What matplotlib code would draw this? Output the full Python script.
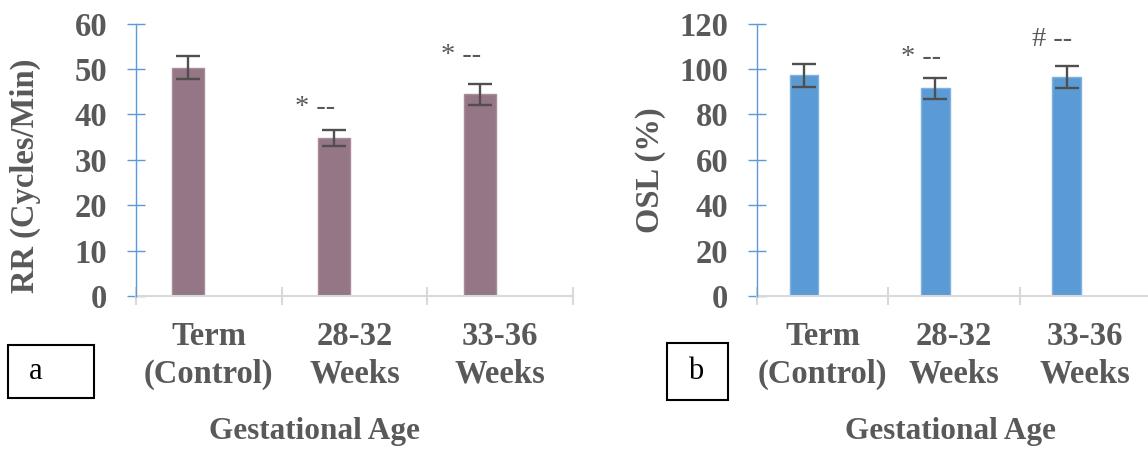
import matplotlib
matplotlib.use("Agg")
import matplotlib.pyplot as plt
from matplotlib.patches import Rectangle
import numpy as np

# ---- data ----
categories = ["Term\n(Control)", "28-32\nWeeks", "33-36\nWeeks"]
rr_values = [50.3, 34.7, 44.4]
rr_errors = [2.5, 1.75, 2.3]
osl_values = [97.2, 91.5, 96.3]
osl_errors = [5.0, 4.7, 4.85]
rr_marks = ["", "* --", "* --"]
osl_marks = ["", "* --", "# --"]
rr_mark_y = [None, 40.1, 51.5]
osl_mark_y = [None, 102.2, 110.1]

W, H = 1148, 449
fig = plt.figure(figsize=(W / 100, H / 100), dpi=100)

GRAY = "#595959"
SERIF = "Liberation Serif"


def make_panel(rect, values, errors, color, edge, ymax, ystep, marks, mark_y, ylabel, ylabel_xy, panel_letter, box):
    ax = fig.add_axes(rect)
    n = len(values)
    x = np.arange(n)
    xb = x - 0.14
    ax.bar(xb, values, width=0.22, color=color, edgecolor=edge, linewidth=1.0, zorder=2)
    ax.errorbar(xb, values, yerr=errors, fmt="none", ecolor="#4F4F4F", elinewidth=1.7,
                capsize=8.4, capthick=1.7, zorder=3)
    ax.set_xlim(-0.5, n - 0.5)
    ax.set_ylim(0, ymax)
    ax.set_yticks(np.arange(0, ymax + 1, ystep))
    for s in ("top", "right"):
        ax.spines[s].set_visible(False)
    ax.spines["left"].set_color("#5B9BD5")
    ax.spines["left"].set_linewidth(1.0)
    ax.spines["bottom"].set_color("#D9D9D9")
    ax.spines["bottom"].set_linewidth(1.5)
    ax.spines["left"].set_zorder(4)
    ax.tick_params(axis="y", direction="inout", length=13, width=1.0, color="#5B9BD5",
                   labelsize=23.5, labelcolor=GRAY, pad=14)
    for lab in ax.get_yticklabels():
        lab.set_fontfamily(SERIF)
        lab.set_fontweight("bold")
    # x: major at boundaries (no labels), minor at centers with labels
    ax.set_xticks(np.arange(-0.5, n, 1.0))
    ax.set_xticklabels([])
    ax.tick_params(axis="x", which="major", direction="inout", length=13, width=1.5, color="#D9D9D9")
    ax.set_xticks(x, minor=True)
    ax.set_xticklabels(categories, minor=True, fontsize=23.5, color=GRAY,
                       fontfamily=SERIF, fontweight="bold", linespacing=1.27)
    ax.tick_params(axis="x", which="minor", length=0, pad=18)
    for xi, m, my in zip(xb, marks, mark_y):
        if m:
            ax.text(xi - 0.265, my, m, fontsize=20.5, color=GRAY, fontfamily=SERIF,
                    ha="left", va="baseline")
    fig.text(ylabel_xy[0] / W, 1 - ylabel_xy[1] / H, ylabel, rotation=90, ha="center", va="center",
             fontsize=23.5, color=GRAY, fontfamily=SERIF, fontweight="bold")
    # panel letter box
    bx0, by0, bx1, by1 = box
    fig.patches.append(Rectangle((bx0 / W, 1 - by1 / H), (bx1 - bx0) / W, (by1 - by0) / H,
                                 transform=fig.transFigure, fill=False, edgecolor="black", linewidth=1.5))
    fig.text((bx0 + 21) / W, 1 - ((by0 + by1) / 2) / H, panel_letter, ha="left", va="center",
             fontsize=22, color="black", fontfamily=SERIF)
    return ax


y0_px, ytop_px = 296, 23.5
bottom = (H - y0_px) / H
height = (y0_px - ytop_px) / H

make_panel([135.7 / W, bottom, (573.3 - 135.7) / W, height], rr_values, rr_errors,
           "#957686", "#A88C9A", 60, 10, rr_marks, rr_mark_y, "RR (Cycles/Min)", (25, 176), "a",
           (8.3, 345, 94.3, 398.3))
make_panel([756.7 / W, bottom, (1151 - 756.7) / W, height], osl_values, osl_errors,
           "#5B9BD5", "#7FB2E0", 120, 20, osl_marks, osl_mark_y, "OSL (%)", (651, 170), "b",
           (666.7, 343.3, 727.7, 400))

fig.text(314 / W, 1 - 432 / H, "Gestational Age", ha="center", va="center", fontsize=22.5,
         color=GRAY, fontfamily=SERIF, fontweight="bold")
fig.text(950 / W, 1 - 432 / H, "Gestational Age", ha="center", va="center", fontsize=22.5,
         color=GRAY, fontfamily=SERIF, fontweight="bold")

fig.savefig("out.png", dpi=100)
